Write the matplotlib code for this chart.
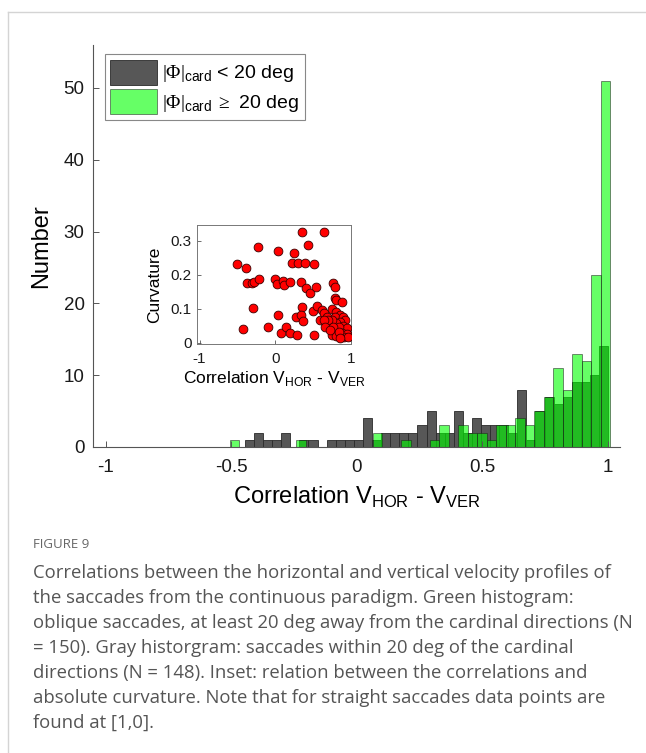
import numpy as np
import matplotlib
matplotlib.use('agg')
import matplotlib.pyplot as plt
from matplotlib.lines import Line2D

plt.rcParams['font.family'] = ['Liberation Sans', 'DejaVu Sans']
plt.rcParams['mathtext.fontset'] = 'custom'
plt.rcParams['mathtext.rm'] = 'Liberation Serif'
plt.rcParams['mathtext.sf'] = 'Liberation Sans'
plt.rcParams['axes.unicode_minus'] = False

## Histogram data (40 bins each, own bin range)
gray_range = (-0.445, 1.002)
gray_counts = [1, 2, 1, 1, 2, 0, 1, 1, 0, 1,
               1, 1, 1, 4, 1, 2, 2, 2, 2, 3,
               5, 2, 2, 5, 2, 4, 3, 3, 3, 2,
               8, 1, 5, 7, 6, 7, 9, 9, 10, 14]
green_range = (-0.505, 1.011)
green_counts = [1, 0, 0, 0, 0, 0, 0, 1, 0, 0,
                0, 0, 0, 0, 0, 2, 0, 0, 1, 0,
                0, 1, 3, 0, 3, 2, 2, 1, 3, 3,
                4, 3, 5, 7, 11, 8, 13, 12, 24, 51]

## Inset scatter: correlation vs curvature
corr = [-0.50, -0.38, -0.37, -0.31, -0.28, -0.22, -0.23, -0.29, -0.43, -0.10,
        0.00, 0.04, 0.03, 0.10, 0.12, 0.20, 0.22, 0.25, 0.30, 0.40,
        0.35, 0.43, 0.52, 0.34, 0.41, 0.46, 0.54, 0.64, 0.04, 0.08,
        0.15, 0.20, 0.29, 0.28, 0.35, 0.34, 0.37, 0.50, 0.52, 0.55,
        0.59, 0.62, 0.65, 0.68, 0.70, 0.74, 0.75, 0.75, 0.77, 0.79,
        0.79, 0.81, 0.88, 0.81, 0.86, 0.79, 0.90, 0.93, 0.86, 0.81,
        0.90, 0.95, 0.85, 0.88, 0.95, 0.81, 0.91, 0.75, 0.70, 0.64,
        0.66, 0.77, 0.84, 0.97, 0.86, 0.73]
curv = [0.231, 0.219, 0.176, 0.176, 0.179, 0.186, 0.282, 0.103, 0.040, 0.045,
        0.186, 0.270, 0.172, 0.181, 0.170, 0.179, 0.235, 0.265, 0.233, 0.233,
        0.324, 0.287, 0.230, 0.179, 0.162, 0.147, 0.163, 0.324, 0.081, 0.027,
        0.045, 0.029, 0.023, 0.076, 0.104, 0.081, 0.064, 0.094, 0.023, 0.108,
        0.067, 0.096, 0.086, 0.075, 0.049, 0.039, 0.023, 0.098, 0.176, 0.165,
        0.132, 0.125, 0.118, 0.091, 0.081, 0.076, 0.076, 0.067, 0.062, 0.057,
        0.049, 0.042, 0.045, 0.027, 0.025, 0.020, 0.016, 0.067, 0.067, 0.067,
        0.047, 0.047, 0.032, 0.016, 0.013, 0.037]

caption = ["Correlations between the horizontal and vertical velocity profiles of",
           "the saccades from the continuous paradigm. Green histogram:",
           "oblique saccades, at least 20 deg away from the cardinal directions (N",
           "= 150). Gray historgram: saccades within 20 deg of the cardinal",
           "directions (N = 148). Inset: relation between the correlations and",
           "absolute curvature. Note that for straight saccades data points are",
           "found at [1,0]."]

axcol = '#555555'

fig = plt.figure(figsize=(6.46, 7.53), dpi=100)

## Main histogram
ax = fig.add_axes([0.144, 0.4064, 0.816, 0.534])
g_edges = np.linspace(gray_range[0], gray_range[1], len(gray_counts) + 1)
n_edges = np.linspace(green_range[0], green_range[1], len(green_counts) + 1)
ax.bar(g_edges[:-1], gray_counts, width=np.diff(g_edges), align='edge',
       color='#575757', edgecolor='#2a2a2a', linewidth=0.6,
       label=r'$|\Phi|_{\mathsf{card}}$ < 20 deg')
ax.bar(n_edges[:-1], green_counts, width=np.diff(n_edges), align='edge',
       color=(0, 1, 0, 0.6), edgecolor=(0.1, 0.1, 0.1, 0.6), linewidth=0.6,
       label=r'$|\Phi|_{\mathsf{card}}\,\geq$ 20 deg')

ax.set_xlim(-1.05, 1.05)
ax.set_ylim(0, 56)
ax.set_xticks([-1, -0.5, 0, 0.5, 1])
ax.set_xticklabels(['-1', '-0.5', '0', '0.5', '1'])
ax.set_yticks([0, 10, 20, 30, 40, 50])
ax.set_yticklabels(['0', '10', '20', '30', '40', '50'])
ax.tick_params(direction='in', length=4, width=0.7, color=axcol,
               labelsize=13.5, labelcolor='#1a1a1a', pad=6)
ax.tick_params(axis='x', pad=9)
for s in ['top', 'right']:
    ax.spines[s].set_visible(False)
for s in ['left', 'bottom']:
    ax.spines[s].set_color(axcol)
    ax.spines[s].set_linewidth(0.8)
ax.set_xlabel(r'Correlation V$_{\mathsf{HOR}}$ - V$_{\mathsf{VER}}$', fontsize=17, labelpad=6)
ax.set_ylabel('Number', fontsize=17, labelpad=8)

leg = ax.legend(loc='upper left', bbox_to_anchor=(0.022, 0.978), fontsize=14,
                handlelength=2.4, handleheight=1.6, handletextpad=0.25,
                borderpad=0.3, labelspacing=0.25, fancybox=False,
                framealpha=1, borderaxespad=0.0)
leg.get_frame().set_edgecolor('#888888')
leg.get_frame().set_linewidth(0.8)

## Inset scatter
ins = fig.add_axes([0.3054, 0.5432, 0.2375, 0.158])
ins.scatter(corr, curv, s=40, color='#ff0000', edgecolor='#3a0000', linewidth=0.6,
            zorder=3)
ins.set_xlim(-1.03, 1.0)
ins.set_ylim(-0.004, 0.346)
ins.set_xticks([-1, 0, 1])
ins.set_xticklabels(['-1', '0', '1'])
ins.set_yticks([0, 0.1, 0.2, 0.3])
ins.set_yticklabels(['0', '0.1', '0.2', '0.3'])
ins.tick_params(direction='in', length=3, width=0.6, color=axcol,
                labelsize=11, labelcolor='#1a1a1a', pad=4)
ins.tick_params(axis='x', pad=6)
for s in ins.spines.values():
    s.set_color('#777777')
    s.set_linewidth(0.7)
ins.set_xlabel(r'Correlation V$_{\mathsf{HOR}}$ - V$_{\mathsf{VER}}$', fontsize=12.5, labelpad=2)
ins.set_ylabel('Curvature', fontsize=12.5, labelpad=6)

## Card border and caption
fig.add_artist(Line2D([0.012, 0.012], [0, 0.984], transform=fig.transFigure,
                      color='#d4d4d4', linewidth=1))
fig.add_artist(Line2D([0.012, 1.0], [0.984, 0.984], transform=fig.transFigure,
                      color='#d4d4d4', linewidth=1))

fig.text(33 / 646, 1 - 544 / 753, 'FIGURE 9', fontsize=9.5, color='#666666',
         family=['Open Sans', 'DejaVu Sans'], va='center')
for i, line in enumerate(caption):
    fig.text(33 / 646, 1 - (573 + 25 * i) / 753, line, fontsize=13.3, color='#555555',
             family=['Open Sans', 'DejaVu Sans'], va='center')

plt.savefig('out.png', dpi=100)
